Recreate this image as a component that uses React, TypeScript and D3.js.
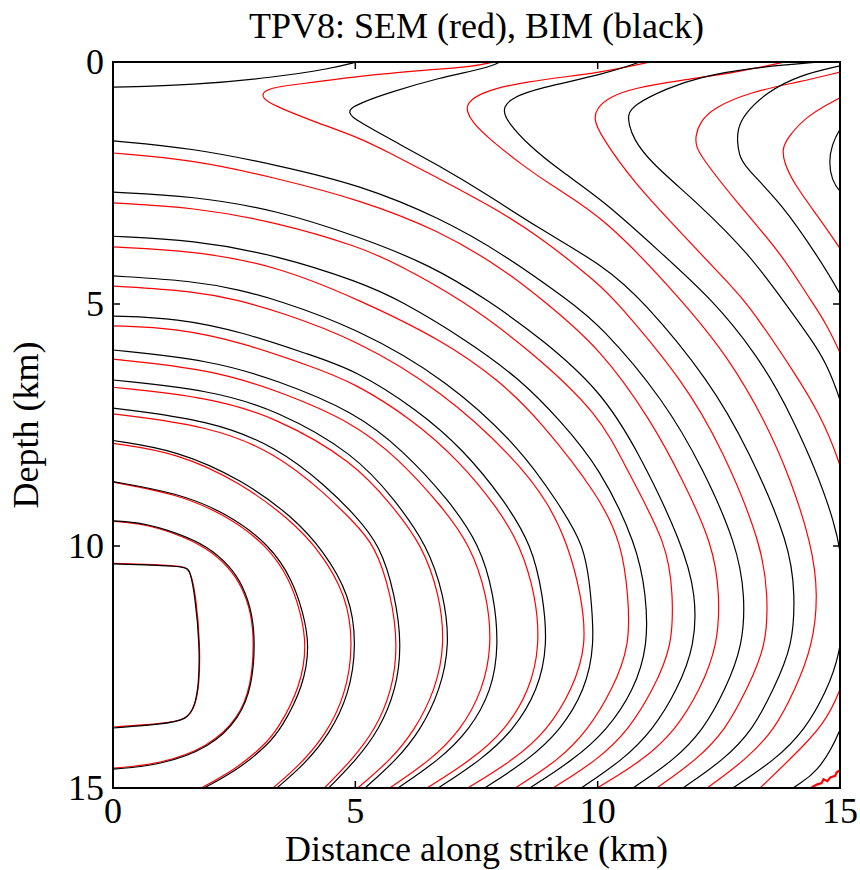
import React from "react";
import * as d3 from "d3";

type P = [number, number];

// ---- axis ticks ----
const xTicks = [0, 5, 10, 15];
const yTicks = [0, 5, 10, 15];
const titleText = "TPV8: SEM (red), BIM (black)";
const xLabel = "Distance along strike (km)";
const yLabel = "Depth (km)";

// ---- BIM (black) rupture-time contours: [distance km, depth km] ----
const bim0: P[] = [[0,10.37],[1.0,10.40],[1.51,10.43],[1.59,10.52],[1.69,11.01],[1.79,12.05],[1.77,12.87],[1.69,13.29],[1.53,13.60],[1.0,13.68],[0,13.76]];
const bim1: P[] = [[0,9.48],[0.62,9.52],[1.32,9.73],[1.94,10.0],[2.40,10.4],[2.68,10.81],[2.88,11.4],[2.93,12.05],[2.87,12.87],[2.62,13.55],[2.0,14.17],[0.97,14.53],[0,14.61]];
const bim2: P[] = [[0,8.67],[1.32,8.90],[2.35,9.32],[3.24,9.98],[3.70,10.7],[3.92,11.36],[4.06,12.05],[3.93,12.9],[3.48,13.76],[3.19,14.11],[2.61,14.6],[1.88,15.0]];
const bim3: P[] = [[0,7.82],[1.32,8.02],[2.68,8.64],[3.71,9.40],[4.33,10.08],[4.89,11.01],[5.03,12.05],[4.87,13.08],[4.46,13.9],[3.94,14.52],[3.38,15.0]];
const bim4: P[] = [[0,7.15],[2.0,7.40],[3.38,7.95],[4.42,8.78],[4.99,9.36],[5.51,9.98],[5.82,11.01],[5.96,12.05],[5.84,12.98],[5.49,13.80],[5.02,14.42],[4.45,15.0]];
const bim5: P[] = [[0,6.57],[2.0,6.78],[3.38,7.19],[4.99,8.10],[5.82,9.05],[6.48,9.98],[6.83,11.01],[6.95,12.05],[6.75,12.98],[6.35,13.80],[5.85,14.42],[5.20,15.0]];
const bim6: P[] = [[0,5.95],[2.0,6.16],[3.38,6.57],[4.99,7.23],[5.98,8.02],[6.93,9.05],[7.57,9.98],[7.86,11.01],[7.96,12.05],[7.82,12.98],[7.36,13.80],[6.73,14.42],[5.88,15.0]];
const bim7: P[] = [[0,5.25],[1.32,5.29],[2.68,5.58],[4.06,6.05],[4.99,6.36],[6.29,7.19],[7.24,8.02],[8.07,9.05],[8.64,9.98],[8.87,11.01],[8.97,12.05],[8.77,12.98],[8.27,13.80],[7.60,14.42],[6.71,15.0]];
const bim8: P[] = [[0,4.42],[1.65,4.52],[2.62,4.71],[3.40,4.92],[4.99,5.48],[6.91,6.57],[8.44,8.02],[9.14,9.05],[9.74,9.98],[9.86,11.01],[9.94,12.05],[9.74,12.98],[9.24,13.80],[8.57,14.42],[7.67,15.0]];
const bim9: P[] = [[0,3.60],[1.65,3.68],[3.38,3.99],[5.10,4.55],[5.92,4.92],[7.3,5.75],[8.42,6.57],[9.22,7.40],[10.05,8.39],[10.81,9.98],[11.0,11.01],[11.04,12.05],[10.75,12.98],[10.20,13.8],[9.50,14.42],[8.60,15.0]];
const bim10: P[] = [[0,2.69],[1.65,2.77],[3.38,3.06],[5.10,3.62],[6.54,4.19],[7.74,4.92],[8.87,5.74],[10.05,6.78],[10.83,8.02],[11.76,9.98],[12.03,11.01],[12.01,12.05],[11.64,12.98],[11.14,13.8],[10.52,14.42],[9.66,15.0]];
const bim11: P[] = [[0,1.63],[1.65,1.78],[3.38,2.13],[5.10,2.54],[6.75,3.22],[8.09,3.99],[9.39,4.92],[10.05,5.43],[11.37,6.98],[12.19,8.43],[12.87,9.98],[13.04,11.01],[13.0,12.05],[12.63,12.98],[12.18,13.8],[11.58,14.42],[10.73,15.0]];
const bim12: P[] = [[0,0.52],[1.65,0.48],[3.38,0.31],[4.48,0.14],[5.03,0]];
const bimV1: P[] = [[7.98,0],[7.74,0.12],[6.71,0.33],[5.67,0.64],[5.10,0.85],[4.90,0.96],[4.87,1.05],[4.95,1.15],[5.10,1.24],[5.67,1.57],[6.71,2.13],[7.74,2.75],[8.77,3.43],[10.13,4.21],[10.93,4.92],[12.30,6.57],[13.12,8.02],[13.97,9.98],[14.07,11.01],[14.03,12.05],[13.62,12.98],[13.20,13.8],[12.60,14.42],[11.76,15.0]];
const bimV2: P[] = [[10.87,0],[10.15,0.25],[8.77,0.54],[8.23,0.74],[8.06,0.93],[8.08,1.08],[8.15,1.24],[8.56,1.71],[9.26,2.27],[10.15,2.89],[11.26,3.90],[12.38,4.92],[13.25,6.0],[13.97,7.19],[15.0,9.61],[15.12,11.1],[15.0,12.25],[14.73,12.98],[14.28,13.8],[13.66,14.42],[12.79,15.0]];
const bimV3: P[] = [[14.59,0],[13.14,0.12],[12.11,0.31],[11.43,0.54],[10.73,0.89],[10.62,1.10],[10.65,1.30],[10.73,1.57],[11.08,2.07],[12.11,2.95],[13.14,3.99],[13.82,4.92],[14.42,5.74],[15.0,6.67],[15.9,10.5],[15.0,14.36],[14.03,15.0]];
const bimV4: P[] = [[15.0,0.08],[14.17,0.27],[13.49,0.62],[13.0,1.10],[12.89,1.40],[12.88,1.65],[12.92,1.90],[13.0,2.13],[13.82,2.95],[14.52,3.99],[15.0,4.75],[15.6,6.0]];
const bimV5: P[] = [[15.3,1.0],[15.0,1.36],[14.83,1.71],[14.77,2.07],[14.83,2.44],[15.0,2.69],[15.3,3.0]];

// ---- SEM (red) rupture-time contours ----
const sem0: P[] = [[0,10.36],[1.0,10.39],[1.50,10.42],[1.60,10.53],[1.71,11.01],[1.80,12.05],[1.78,12.87],[1.70,13.29],[1.54,13.59],[1.0,13.67],[0,13.74]];
const sem1: P[] = [[0,9.49],[0.62,9.54],[1.32,9.75],[1.92,10.03],[2.38,10.42],[2.66,10.83],[2.86,11.4],[2.91,12.05],[2.85,12.87],[2.60,13.55],[1.98,14.15],[0.96,14.51],[0,14.59]];
const sem2: P[] = [[0,8.68],[1.3,8.92],[2.32,9.35],[3.2,10.0],[3.65,10.7],[3.87,11.36],[4.0,12.05],[3.87,12.9],[3.42,13.76],[3.13,14.11],[2.55,14.6],[1.82,15.0]];
const sem3: P[] = [[0,7.88],[1.32,8.07],[2.65,8.70],[3.65,9.45],[4.27,10.1],[4.82,11.02],[4.96,12.05],[4.80,13.08],[4.39,13.9],[3.86,14.52],[3.30,15.0]];
const sem4: P[] = [[0,7.27],[2.0,7.52],[3.36,8.08],[4.36,8.9],[4.92,9.46],[5.41,9.98],[5.74,11.01],[5.88,12.05],[5.76,12.98],[5.41,13.80],[4.93,14.42],[4.36,15.0]];
const sem5: P[] = [[0,6.72],[2.0,6.93],[3.38,7.35],[4.95,8.25],[5.75,9.15],[6.38,9.98],[6.74,11.01],[6.85,12.05],[6.65,12.98],[6.23,13.80],[5.73,14.42],[5.05,15.0]];
const sem6: P[] = [[0,6.14],[2.0,6.35],[3.38,6.78],[4.95,7.44],[5.9,8.2],[6.8,9.2],[7.37,9.98],[7.72,11.01],[7.82,12.05],[7.63,12.98],[7.18,13.80],[6.56,14.42],[5.71,15.0]];
const sem7: P[] = [[0,5.45],[1.32,5.50],[2.68,5.80],[4.06,6.28],[4.95,6.61],[6.2,7.40],[7.12,8.22],[7.93,9.2],[8.40,9.98],[8.72,11.01],[8.81,12.05],[8.60,12.98],[8.10,13.8],[7.40,14.42],[6.48,15.0]];
const sem8: P[] = [[0,4.63],[1.65,4.73],[2.58,4.92],[3.40,5.15],[4.99,5.72],[6.8,6.8],[8.3,8.2],[8.98,9.1],[9.39,9.98],[9.66,11.01],[9.78,12.05],[9.47,12.98],[8.97,13.8],[8.27,14.42],[7.32,15.0]];
const sem9: P[] = [[0,3.82],[1.65,3.90],[3.38,4.21],[5.10,4.92],[6.8,5.75],[7.96,6.57],[8.81,7.40],[10.05,8.99],[10.50,9.98],[10.63,11.01],[10.67,12.05],[10.30,12.98],[9.80,13.8],[9.20,14.42],[8.30,15.0]];
const sem10: P[] = [[0,2.91],[1.65,3.0],[3.38,3.31],[5.10,3.82],[5.90,4.19],[7.22,4.92],[8.6,5.95],[10.05,7.29],[10.60,8.43],[11.45,9.98],[11.55,11.01],[11.55,12.05],[11.14,12.98],[10.64,13.8],[10.0,14.42],[9.08,15.0]];
const sem11: P[] = [[0,1.88],[1.65,2.02],[3.38,2.40],[5.10,2.85],[6.71,3.47],[8.03,4.26],[8.87,4.92],[10.05,5.91],[11.10,7.40],[11.76,8.64],[12.38,9.98],[12.52,11.01],[12.48,12.05],[12.11,12.98],[11.61,13.8],[10.95,14.42],[9.99,15.0]];
const semV1: P[] = [[7.84,0],[7.41,0.10],[6.38,0.17],[5.10,0.29],[4.06,0.43],[3.30,0.52],[3.09,0.62],[3.08,0.74],[3.30,0.89],[4.06,1.20],[5.10,1.57],[5.67,1.86],[6.71,2.40],[7.74,2.95],[8.77,3.57],[10.05,4.61],[10.36,4.92],[11.76,6.57],[12.59,8.02],[13.39,9.98],[13.51,11.01],[13.49,12.05],[13.07,12.98],[12.64,13.8],[12.04,14.42],[11.22,15.0]];
const semV2: P[] = [[11.08,0],[10.15,0.21],[8.44,0.41],[7.61,0.62],[7.30,0.85],[7.30,1.02],[7.41,1.24],[7.74,1.57],[8.44,2.13],[9.12,2.60],[10.15,3.22],[11.74,4.92],[12.69,6.09],[13.45,7.40],[13.99,8.64],[14.42,9.98],[14.55,11.01],[14.44,12.05],[14.07,12.98],[13.65,13.8],[13.05,14.42],[12.26,15.0]];
const semV3: P[] = [[13.86,0],[12.79,0.23],[11.76,0.37],[10.73,0.54],[10.25,0.72],[9.98,0.95],[9.92,1.18],[10.05,1.50],[10.73,2.48],[11.76,3.57],[12.79,4.67],[13.04,4.92],[14.11,6.47],[15.0,7.98],[15.6,10.8],[15.0,13.29],[14.28,14.11],[13.35,15.0]];
const semV4: P[] = [[15.0,0.21],[14.17,0.41],[13.14,0.62],[12.38,0.95],[12.11,1.24],[12.01,1.55],[12.04,1.75],[12.11,1.92],[12.79,2.81],[13.82,3.99],[14.38,4.92],[15.0,5.79],[16.5,10]];
const semV5: P[] = [[15.0,0.74],[14.32,1.10],[13.91,1.57],[13.80,1.82],[13.86,2.1],[14.03,2.48],[14.52,3.16],[15.0,3.84],[15.4,4.5]];
const semCorner: P[] = [[14.40,15.0],[14.52,14.93],[14.62,14.9],[14.66,14.82],[14.74,14.86],[14.80,14.78],[14.90,14.75],[14.93,14.68],[15.0,14.63]];

const bimContours = [bim0, bim1, bim2, bim3, bim4, bim5, bim6, bim7, bim8, bim9, bim10, bim11, bim12, bimV1, bimV2, bimV3, bimV4, bimV5];
const semContours = [sem0, sem1, sem2, sem3, sem4, sem5, sem6, sem7, sem8, sem9, sem10, sem11, semV1, semV2, semV3, semV4, semV5];

const W = 860;
const H = 870;
const M = { left: 113, right: 840, top: 62, bottom: 788 };
const FONT = "Liberation Serif, DejaVu Serif, serif";

export default function App() {
  const x = d3.scaleLinear().domain([0, 15]).range([M.left, M.right]);
  const y = d3.scaleLinear().domain([0, 15]).range([M.top, M.bottom]);
  const line = d3
    .line<P>()
    .x((d) => x(d[0]))
    .y((d) => y(d[1]))
    .curve(d3.curveBasis);
  const lineLinear = d3
    .line<P>()
    .x((d) => x(d[0]))
    .y((d) => y(d[1]));
  const tickLen = 7;
  const fs = 36;
  const textStyle = { fontFamily: FONT, fontSize: fs } as React.CSSProperties;

  return (
    <svg
      width={W}
      height={H}
      style={{ position: "absolute", left: 0, top: 0, background: "#fff" }}
      xmlns="http://www.w3.org/2000/svg"
    >
      <rect x={0} y={0} width={W} height={H} fill="#fff" />
      <defs>
        <clipPath id="plotClip">
          <rect x={M.left} y={M.top} width={M.right - M.left} height={M.bottom - M.top} />
        </clipPath>
      </defs>
      <g clipPath="url(#plotClip)" fill="none">
        {semContours.map((c, i) => (
          <path key={"s" + i} d={line(c) || ""} stroke="#ff0000" strokeWidth={1.2} />
        ))}
        <path d={lineLinear(semCorner) || ""} stroke="#ff0000" strokeWidth={2.2} />
        {bimContours.map((c, i) => (
          <path key={"b" + i} d={line(c) || ""} stroke="#000" strokeWidth={1.2} />
        ))}
      </g>
      <rect
        x={M.left}
        y={M.top}
        width={M.right - M.left}
        height={M.bottom - M.top}
        fill="none"
        stroke="#000"
        strokeWidth={2}
      />
      {xTicks.map((t) => (
        <g key={"xt" + t}>
          <line x1={x(t)} x2={x(t)} y1={M.bottom} y2={M.bottom - tickLen} stroke="#000" strokeWidth={1.5} />
          <line x1={x(t)} x2={x(t)} y1={M.top} y2={M.top + tickLen} stroke="#000" strokeWidth={1.5} />
          <text x={x(t)} y={M.bottom + 35} textAnchor="middle" style={textStyle}>
            {t}
          </text>
        </g>
      ))}
      {yTicks.map((t) => (
        <g key={"yt" + t}>
          <line x1={M.left} x2={M.left + tickLen} y1={y(t)} y2={y(t)} stroke="#000" strokeWidth={1.5} />
          <line x1={M.right} x2={M.right - tickLen} y1={y(t)} y2={y(t)} stroke="#000" strokeWidth={1.5} />
          <text x={M.left - 9} y={y(t) + 12} textAnchor="end" style={textStyle}>
            {t}
          </text>
        </g>
      ))}
      <text x={(M.left + M.right) / 2} y={38} textAnchor="middle" style={textStyle}>
        {titleText}
      </text>
      <text x={(M.left + M.right) / 2} y={861} textAnchor="middle" style={textStyle}>
        {xLabel}
      </text>
      <text
        transform={`translate(38,${(M.top + M.bottom) / 2}) rotate(-90)`}
        textAnchor="middle"
        style={textStyle}
      >
        {yLabel}
      </text>
    </svg>
  );
}
